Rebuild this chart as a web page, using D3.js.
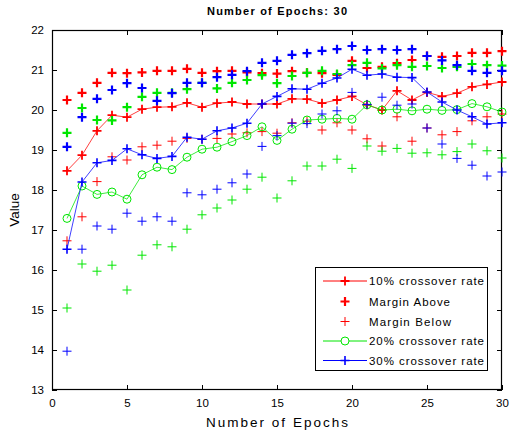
<!DOCTYPE html>
<html>
<head>
<meta charset="utf-8">
<script src="https://cdn.jsdelivr.net/npm/d3@7"></script>
<style>
  html, body { margin: 0; padding: 0; background: #fff; }
  svg text { font-family: "Liberation Sans", Arial, Helvetica, sans-serif; fill: #000; }
</style>
</head>
<body>
<svg id="chart" width="510" height="435"></svg>
<script>
// Epoch index shared by every series
const epochs = [1,2,3,4,5,6,7,8,9,10,11,12,13,14,15,16,17,18,19,20,21,22,23,24,25,26,27,28,29,30];

// 10% crossover rate: mean value with upper / lower margins
const rate10 = [18.48,18.87,19.48,19.87,19.82,20.02,20.07,20.08,20.18,20.07,20.17,20.20,20.15,20.15,20.15,
                20.28,20.27,20.17,20.25,20.34,20.13,20.00,20.48,20.25,20.44,20.34,20.42,20.58,20.64,20.70];
const rate10Above = [20.25,20.43,20.68,20.93,20.92,20.94,20.98,20.98,21.03,20.93,20.97,20.98,20.94,20.92,20.91,
                     20.97,20.93,20.92,20.88,21.23,21.05,21.08,21.17,21.25,21.35,21.33,21.35,21.43,21.43,21.47];
const rate10Below = [16.73,17.33,18.21,18.83,18.75,19.08,19.12,19.22,19.29,19.27,19.29,19.40,19.43,19.46,19.42,
                     19.68,19.72,19.50,19.68,19.50,19.28,19.10,19.83,19.22,19.55,19.38,19.46,19.73,19.83,19.90];

// 20% crossover rate
const rate20 = [17.29,18.10,17.89,17.95,17.77,18.38,18.57,18.51,18.82,19.02,19.07,19.21,19.36,19.58,19.24,
                19.52,19.75,19.77,19.79,19.77,20.13,20.00,20.02,19.98,20.02,19.99,20.01,20.16,20.08,19.95];
const rate20Above = [19.43,20.05,19.75,19.74,20.07,20.33,20.43,20.43,20.52,20.68,20.54,20.68,20.75,20.87,20.67,
                     20.85,20.93,20.98,20.90,21.12,21.18,21.04,21.12,21.08,21.10,21.05,21.08,21.15,21.12,21.11];
const rate20Below = [15.05,16.15,15.97,16.12,15.50,16.37,16.63,16.58,17.02,17.38,17.55,17.75,18.02,18.32,17.80,
                     18.23,18.60,18.60,18.77,18.54,19.10,18.97,19.04,18.92,18.93,18.88,18.96,19.15,18.98,18.80];

// 30% crossover rate
const rate30 = [16.52,18.20,18.68,18.74,19.03,18.88,18.79,18.84,19.32,19.27,19.48,19.55,19.67,20.15,20.34,
                20.53,20.52,20.67,20.80,21.02,20.87,20.90,20.82,20.81,20.45,20.20,20.00,19.83,19.65,19.68];
const rate30Above = [19.08,19.82,20.28,20.50,20.67,20.55,20.23,20.42,20.68,20.68,20.82,20.88,20.97,21.18,21.23,
                     21.38,21.42,21.48,21.52,21.60,21.50,21.52,21.50,21.52,21.35,21.24,21.12,20.98,20.93,20.98];
const rate30Below = [13.97,16.52,17.10,17.02,17.42,17.22,17.33,17.22,17.93,17.88,18.02,18.18,18.40,19.09,19.36,
                     19.67,19.66,19.90,19.98,20.44,20.14,20.32,20.12,20.15,19.55,19.15,18.79,18.62,18.35,18.45];

// Axis tick values
const xTicks = [0,5,10,15,20,25,30];
const yTicks = [13,14,15,16,17,18,19,20,21,22];

const legendLabels = ["10% crossover rate","Margin Above","Margin Below","20% crossover rate","30% crossover rate"];

const RED = "#ff0000", GREEN = "#00e600", BLUE = "#0000ff";

const svg = d3.select("#chart");
const margin = { left: 52, top: 30, right: 8, bottom: 45 };
const W = 510, H = 435;
const plotW = W - margin.left - margin.right;   // 450
const plotH = H - margin.top - margin.bottom;   // 360

const x = d3.scaleLinear().domain([0, 30]).range([margin.left, margin.left + plotW]);
const y = d3.scaleLinear().domain([13, 22]).range([margin.top + plotH, margin.top]);

// Axes box with inward ticks on all four sides
const tickLen = 5;
const gx = svg.append("g").attr("transform", `translate(0,${margin.top + plotH})`)
  .call(d3.axisBottom(x).tickValues(xTicks).tickSizeInner(-tickLen).tickSizeOuter(0).tickPadding(9));
const gxTop = svg.append("g").attr("transform", `translate(0,${margin.top})`)
  .call(d3.axisTop(x).tickValues(xTicks).tickSizeInner(-tickLen).tickSizeOuter(0).tickFormat(""));
const gy = svg.append("g").attr("transform", `translate(${margin.left},0)`)
  .call(d3.axisLeft(y).tickValues(yTicks).tickSizeInner(-tickLen).tickSizeOuter(0).tickPadding(8));
const gyRight = svg.append("g").attr("transform", `translate(${margin.left + plotW},0)`)
  .call(d3.axisRight(y).tickValues(yTicks).tickSizeInner(-tickLen).tickSizeOuter(0).tickFormat(""));

[gx, gxTop, gy, gyRight].forEach(g => {
  g.select(".domain").remove();
  g.selectAll(".tick line").attr("stroke", "#000").attr("stroke-width", 1);
  g.selectAll("text").attr("font-size", 11.5).attr("fill", "#222")
    .attr("font-family", "'Liberation Sans', Arial, sans-serif");
});

svg.append("rect")
  .attr("x", margin.left + 0.5).attr("y", margin.top + 0.5)
  .attr("width", plotW - 1).attr("height", plotH - 1)
  .attr("fill", "none").attr("stroke", "#000").attr("stroke-width", 1.2);

// Titles
svg.append("text").attr("x", margin.left + plotW / 2).attr("y", 15)
  .attr("text-anchor", "middle").attr("font-size", 11).attr("font-weight", "bold")
  .attr("textLength", 140).attr("lengthAdjust", "spacing")
  .text("Number of Epochs: 30");
svg.append("text").attr("x", margin.left + plotW / 2).attr("y", 427)
  .attr("text-anchor", "middle").attr("font-size", 13.5).attr("fill", "#222")
  .attr("textLength", 142).attr("lengthAdjust", "spacing")
  .text("Number of Epochs");
svg.append("text").attr("transform", `translate(19,${margin.top + plotH / 2}) rotate(-90)`)
  .attr("text-anchor", "middle").attr("font-size", 13.5).attr("fill", "#222")
  .text("Value");

const plot = svg.append("g");

const plusPath = (s) => `M${-s},0H${s}M0,${-s}V${s}`;

function drawLine(values, color) {
  const line = d3.line().x((d, i) => x(epochs[i])).y(d => y(d));
  plot.append("path").datum(values)
    .attr("d", line).attr("fill", "none").attr("stroke", color)
    .attr("stroke-width", 1).attr("stroke-opacity", 0.75);
}

function drawPlus(values, color, size, width) {
  plot.append("g").selectAll("path").data(values).join("path")
    .attr("transform", (d, i) => `translate(${x(epochs[i])},${y(d)})`)
    .attr("d", plusPath(size))
    .attr("stroke", color).attr("stroke-width", width).attr("fill", "none");
}

function drawCircles(values, color) {
  plot.append("g").selectAll("circle").data(values).join("circle")
    .attr("cx", (d, i) => x(epochs[i])).attr("cy", d => y(d)).attr("r", 4)
    .attr("fill", "none").attr("stroke", color).attr("stroke-width", 1);
}

// 10% series
drawLine(rate10, RED);
drawPlus(rate10, RED, 4.5, 1.8);
drawPlus(rate10Above, RED, 4.5, 2.2);
drawPlus(rate10Below, RED, 4.5, 1);
// 20% series
drawLine(rate20, GREEN);
drawCircles(rate20, GREEN);
drawPlus(rate20Above, GREEN, 4.5, 2.2);
drawPlus(rate20Below, GREEN, 4.5, 1);
// 30% series
drawLine(rate30, BLUE);
drawPlus(rate30, BLUE, 4.5, 1.6);
drawPlus(rate30Above, BLUE, 4.5, 2.2);
drawPlus(rate30Below, BLUE, 4.5, 1);

// Legend
const lg = svg.append("g");
const lx0 = 315, ly0 = 267, lw = 172, lh = 103;
lg.append("rect").attr("x", lx0 + 0.5).attr("y", ly0 + 0.5).attr("width", lw).attr("height", lh)
  .attr("fill", "#fff").attr("stroke", "#000").attr("stroke-width", 1);

const rowY = [281, 301.5, 321.5, 341, 360.5];
const sampleX0 = 323, sampleX1 = 367, markX = 345, textX = 369;
const legendItems = [
  { label: legendLabels[0], color: RED, line: true, mark: "plus", w: 1.8, len: 115 },
  { label: legendLabels[1], color: RED, line: false, mark: "plus", w: 2.2, len: 81 },
  { label: legendLabels[2], color: RED, line: false, mark: "plus", w: 1, len: 82 },
  { label: legendLabels[3], color: GREEN, line: true, mark: "circle", w: 1, len: 115 },
  { label: legendLabels[4], color: BLUE, line: true, mark: "plus", w: 1.6, len: 115 }
];
legendItems.forEach((it, i) => {
  const yy = rowY[i];
  if (it.line) {
    lg.append("line").attr("x1", sampleX0).attr("x2", sampleX1).attr("y1", yy).attr("y2", yy)
      .attr("stroke", it.color).attr("stroke-width", 1);
  }
  if (it.mark === "plus") {
    lg.append("path").attr("transform", `translate(${markX},${yy})`).attr("d", plusPath(4.5))
      .attr("stroke", it.color).attr("stroke-width", it.w).attr("fill", "none");
  } else {
    lg.append("circle").attr("cx", markX).attr("cy", yy).attr("r", 4)
      .attr("fill", "#fff").attr("stroke", it.color).attr("stroke-width", 1);
  }
  lg.append("text").attr("x", textX).attr("y", yy + 4).attr("font-size", 11.5).attr("fill", "#222")
    .attr("textLength", it.len).attr("lengthAdjust", "spacing")
    .text(it.label);
});
</script>
</body>
</html>
